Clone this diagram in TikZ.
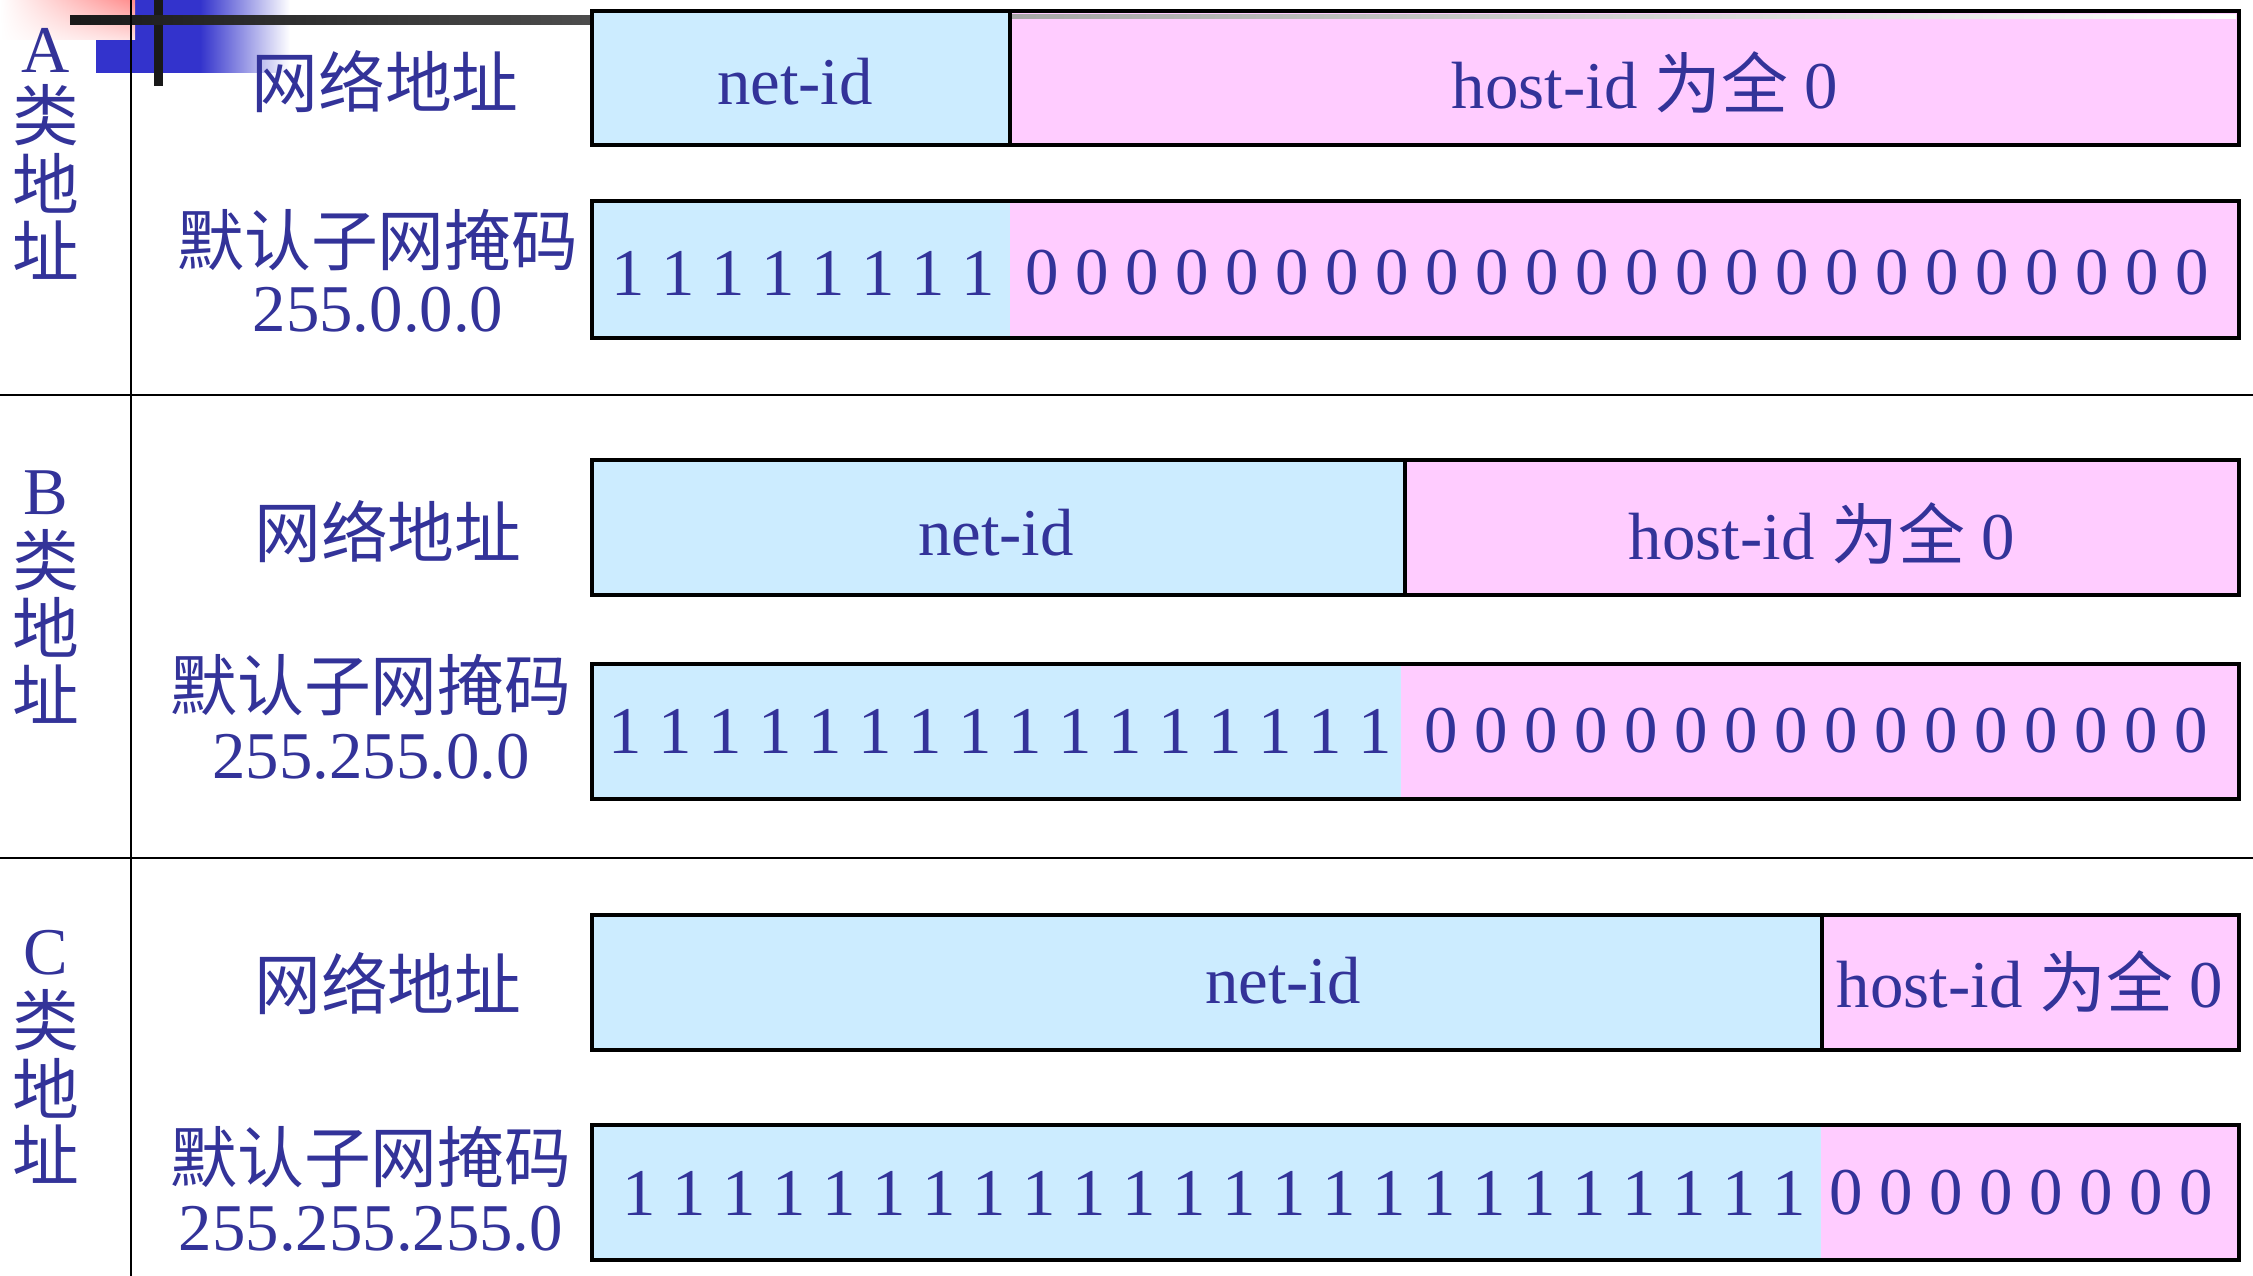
\documentclass[tikz,border=0pt]{standalone}
\usepackage{fontspec}
\setmainfont{Liberation Serif}
\newfontfamily\cjk{Noto Sans CJK SC}
\usetikzlibrary{shadings}
\definecolor{netblue}{HTML}{CCECFF}
\definecolor{hostpink}{HTML}{FFCCFF}
\definecolor{inkblue}{HTML}{333399}
\definecolor{barblue}{HTML}{3333CC}

\begin{document}
\begin{tikzpicture}[x=0.01cm,y=-0.01cm,
	every node/.style={text=inkblue,inner sep=0pt,font=\fontsize{19}{23}\selectfont},
	netpart/.style={fill=netblue},
	hostpart/.style={fill=hostpink},
	frame/.style={draw=black,line width=1pt},
	rule/.style={draw=black,line width=0.6pt}]
	\useasboundingbox (0,0) rectangle (2253,1276);
	% corner decoration
	\fill[barblue] (96,0) rectangle (200,73);
	\shade[left color=barblue,right color=white] (200,0) rectangle (290,73);
	\shade[upper left=white,upper right=red!45,lower left=white,lower right=red!12] (0,0) rectangle (135,40);
	\fill[black!90] (154,0) rectangle (163,86);
	\shade[left color=black!90,right color=black!70] (70,16) rectangle (592,25);
	% table rules
	\draw[rule] (131,0) -- (131,1276);
	\draw[rule] (0,395) -- (2253,395);
	\draw[rule] (0,858) -- (2253,858);

	% class A
	\node (a-l1) at (46,50) {A};
	\node (a-l2) at (46,115) {\cjk 类};
	\node (a-l3) at (46,183) {\cjk 地};
	\node (a-l4) at (46,250) {\cjk 址};
	\node (a-name) at (385,82) {\cjk 网络地址};
	\node (a-mask) at (378,240) {\cjk 默认子网掩码};
	\node (a-dot) at (378,310) {255.0.0.0};
	\fill[netpart] (592,11) rectangle (1010,145);
	\fill[hostpart] (1010,11) rectangle (2239,145);
	\shade[left color=black!35,right color=white] (1012,15) rectangle (2236,19);
	\draw[frame] (592,11) rectangle (2239,145) (1010,11) -- (1010,145);
	\node (a-net) at (795,82) {net-id};
	\node (a-host) at (1645,82) {host-id {\cjk 为全} 0};
	\fill[netpart] (592,201) rectangle (1010,338);
	\fill[hostpart] (1010,201) rectangle (2239,338);
	\draw[frame] (592,201) rectangle (2239,338);
	\foreach \i in {0,...,7}
		\node (a-one\i) at (628+50*\i,273) {1};
	\foreach \i in {0,...,23}
		\node (a-zero\i) at (1042+50*\i,273) {0};

	% class B
	\node (b-l1) at (46,493) {B};
	\node (b-l2) at (46,560) {\cjk 类};
	\node (b-l3) at (46,627) {\cjk 地};
	\node (b-l4) at (46,694) {\cjk 址};
	\node (b-name) at (388,532) {\cjk 网络地址};
	\node (b-mask) at (371,685) {\cjk 默认子网掩码};
	\node (b-dot) at (371,757) {255.255.0.0};
	\fill[netpart] (592,460) rectangle (1405,595);
	\fill[hostpart] (1405,460) rectangle (2239,595);
	\draw[frame] (592,460) rectangle (2239,595) (1405,460) -- (1405,595);
	\node (b-net) at (996,533) {net-id};
	\node (b-host) at (1822,533) {host-id {\cjk 为全} 0};
	\fill[netpart] (592,664) rectangle (1401,799);
	\fill[hostpart] (1401,664) rectangle (2239,799);
	\draw[frame] (592,664) rectangle (2239,799);
	\foreach \i in {0,...,15}
		\node (b-one\i) at (625+50*\i,731) {1};
	\foreach \i in {0,...,15}
		\node (b-zero\i) at (1441+50*\i,731) {0};

	% class C
	\node (c-l1) at (46,953) {C};
	\node (c-l2) at (46,1020) {\cjk 类};
	\node (c-l3) at (46,1088) {\cjk 地};
	\node (c-l4) at (46,1154) {\cjk 址};
	\node (c-name) at (388,984) {\cjk 网络地址};
	\node (c-mask) at (371,1157) {\cjk 默认子网掩码};
	\node (c-dot) at (371,1229) {255.255.255.0};
	\fill[netpart] (592,915) rectangle (1822,1050);
	\fill[hostpart] (1822,915) rectangle (2239,1050);
	\draw[frame] (592,915) rectangle (2239,1050) (1822,915) -- (1822,1050);
	\node (c-net) at (1283,981) {net-id};
	\node (c-host) at (2030,981) {host-id {\cjk 为全} 0};
	\fill[netpart] (592,1125) rectangle (1821,1260);
	\fill[hostpart] (1821,1125) rectangle (2239,1260);
	\draw[frame] (592,1125) rectangle (2239,1260);
	\foreach \i in {0,...,23}
		\node (c-one\i) at (639+50*\i,1193) {1};
	\foreach \i in {0,...,7}
		\node (c-zero\i) at (1846+50*\i,1193) {0};
\end{tikzpicture}
\end{document}
